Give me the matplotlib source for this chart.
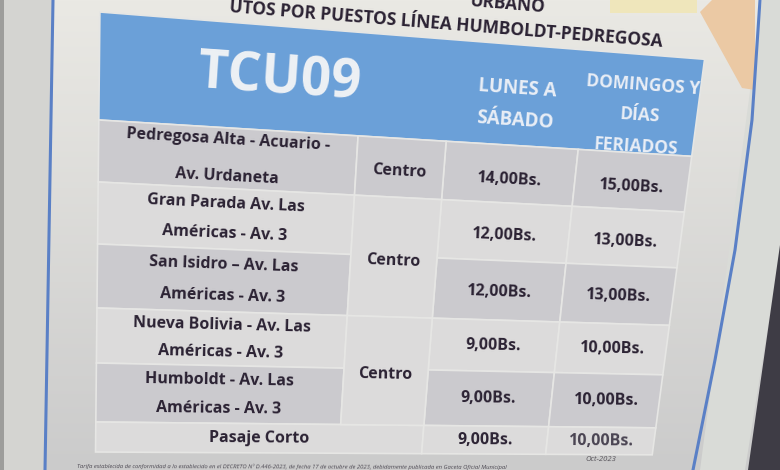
import math
import numpy as np
import matplotlib
matplotlib.use("Agg")
import matplotlib.pyplot as plt
from matplotlib.patches import Polygon

# ---------------- data ----------------
title_top = "URBANO"
title_line = "UTOS POR PUESTOS LÍNEA HUMBOLDT-PEDREGOSA"
route_code = "TCU09"
col_headers = [["LUNES A", "SÁBADO"], ["DOMINGOS Y", "DÍAS", "FERIADOS"]]
routes = [
    ["Pedregosa Alta - Acuario -", "Av. Urdaneta"],
    ["Gran Parada Av. Las", "Américas - Av. 3"],
    ["San Isidro – Av. Las", "Américas - Av. 3"],
    ["Nueva Bolivia - Av. Las", "Américas - Av. 3"],
    ["Humboldt - Av. Las", "Américas - Av. 3"],
    ["Pasaje Corto"],
]
destinations = ["Centro", "Centro", "Centro"]
dest_spans = [(0, 1), (1, 3), (3, 5)]
fare_weekday = [14.00, 12.00, 12.00, 9.00, 9.00, 9.00]
fare_holiday = [15.00, 13.00, 13.00, 10.00, 10.00, 10.00]
currency = "Bs."
date_note = "Oct-2023"
footnote = ("Tarifa establecida de conformidad a lo establecido en el DECRETO Nº D.446-2023, "
            "de fecha 17 de octubre de 2023, debidamente publicada en Gaceta Oficial Municipal")

# ---------------- layout (flat sheet coordinates) ----------------
W, H = 780, 470
col_edges = [100, 365, 455, 590, 706]
row_edges = [120, 182, 244, 308, 363, 422, 452]
head_top = 12

FONT = "Open Sans"
INK = "#2b2233"


def slope(y):
    return 0.08 - 0.075 * y / 450.0


def P(x, y):
    s = 1 - 1.8e-4 * y
    return 45 + (x - 45) * s, y + slope(y) * (x - 100)


def rot(y):
    return -math.degrees(math.atan(slope(y)))


fig = plt.figure(figsize=(7.8, 4.7), dpi=100)
ax = fig.add_axes([0, 0, 1, 1])
ax.set_xlim(0, W)
ax.set_ylim(H, 0)
ax.axis("off")

# background photo-like paper gradient
yy = np.linspace(0, 1, H)[:, None, None]
top = np.array([234, 233, 228]) / 255
bot = np.array([203, 203, 203]) / 255
img = np.broadcast_to(top * (1 - yy) + bot * yy, (H, W, 3)).copy()
ax.imshow(img, extent=(0, W, H, 0), zorder=0, aspect="auto")

# surroundings
ax.add_patch(Polygon([(0, 0), (52, 0), (44, H), (0, H)], closed=True,
                     color="#d4d4d1", zorder=1, lw=0))
ax.add_patch(Polygon([(0, 0), (4, 0), (4, H), (0, H)], closed=True,
                     color="#9d9d9b", zorder=1, lw=0))
ax.add_patch(Polygon([(762, 0), (W, 0), (W, 250), (745, H), (700, H)], closed=True,
                     color="#d9dbd7", zorder=1, lw=0))
ax.add_patch(Polygon([(W, 245), (W, H), (748, H)], closed=True,
                     color="#3e3c45", zorder=1, lw=0))
ax.add_patch(Polygon([(610, 0), (697, 0), (697, 13), (610, 13)], closed=True,
                     color="#efe6bb", zorder=1, lw=0))
ax.add_patch(Polygon([(700, 12), (712, 0), (755, 0), (755, 90), (742, 88)], closed=True,
                     color="#ebc9a4", zorder=1, lw=0))
# blue border lines
ax.plot([53, 45], [0, H], color="#5a80c6", lw=2.2, zorder=2)
ax.plot([760, 752, 735, 715, 693], [0, 120, 250, 360, H], color="#5a80c6",
        lw=2.2, zorder=2)


def quad(x0, x1, y0, y1, color, z=2):
    pts = [P(x0, y0), P(x1, y0), P(x1, y1), P(x0, y1)]
    ax.add_patch(Polygon(pts, closed=True, facecolor=color, edgecolor="#e6e6e4",
                         lw=1.2, zorder=z))


def T(x, y, s, **kw):
    X, Y = P(x, y)
    base = dict(ha="center", va="center", rotation=rot(y), rotation_mode="anchor",
                family=FONT, zorder=5)
    base.update(kw)
    ax.text(X, Y, s, **base)


# header band
quad(col_edges[0], col_edges[-1], head_top, row_edges[0], "#6ba0d8", z=2)
T((col_edges[0] + col_edges[2]) / 2 + 5, 67, route_code, fontsize=38,
  fontweight="bold", color="#eef1f5")
for ci, lines in enumerate(col_headers):
    cx = (col_edges[ci + 2] + col_edges[ci + 3]) / 2
    n = len(lines)
    for li, ln in enumerate(lines):
        yy_ = (76 if ci == 0 else 79) + (li - (n - 1) / 2) * 34
        T(cx, yy_, ln, fontsize=13.5 if ci == 0 else 12.5, fontweight="bold",
          color="#e9eef6")

# title lines
T(468, -30, title_top, fontsize=12.5, fontweight="bold", color=INK, ha="left")
T(446, -3, title_line, fontsize=12.5, fontweight="bold", color=INK)

# rows
dark, light = "#cbcace", "#dcdbdb"
nrows = len(routes)
for r in range(nrows):
    y0, y1 = row_edges[r], row_edges[r + 1]
    c = dark if r % 2 == 0 else light
    if r == nrows - 1:
        quad(col_edges[0], col_edges[2], y0, y1, c)
    else:
        quad(col_edges[0], col_edges[1], y0, y1, c)
    quad(col_edges[2], col_edges[3], y0, y1, c)
    quad(col_edges[3], col_edges[4], y0, y1, c)

for (a, b), d in zip(dest_spans, destinations):
    y0, y1 = row_edges[a], row_edges[b]
    c = dark if (b - a) == 1 else light
    quad(col_edges[1], col_edges[2], y0, y1, c)
    T((col_edges[1] + col_edges[2]) / 2, (y0 + y1) / 2 + 4, d, fontsize=11.5,
      fontweight="bold", color=INK)


def fmt(v):
    return f"{v:.2f}".replace(".", ",") + currency


for r, lines in enumerate(routes):
    y0, y1 = row_edges[r], row_edges[r + 1]
    yc = (y0 + y1) / 2
    h = y1 - y0
    if len(lines) == 1:
        cx = (col_edges[0] + col_edges[2]) / 2
        T(cx, yc, lines[0], fontsize=11.5, fontweight="bold", color=INK)
    else:
        cx = (col_edges[0] + col_edges[1]) / 2
        gap = 38 if r == 0 else min(max(0.5 * h, 28), 36)
        T(cx, yc - gap / 2, lines[0], fontsize=11.5, fontweight="bold", color=INK)
        T(cx, yc + gap / 2, lines[1], fontsize=11.5, fontweight="bold", color=INK)
    py = yc + max(0, 6 - 2 * r)
    T((col_edges[2] + col_edges[3]) / 2, py, fmt(fare_weekday[r]), fontsize=11.5,
      fontweight="bold", color=INK)
    T((col_edges[3] + col_edges[4]) / 2, py, fmt(fare_holiday[r]), fontsize=11.5,
      fontweight="bold", color=INK if r < nrows - 1 else "#4a4452")

# notes
T(668, 457, date_note, fontsize=5.5, style="italic", color="#555258", ha="right")
T(80, 466, footnote, fontsize=4.2, style="italic", color="#4a4650", ha="left")

fig.savefig("out.png", dpi=100)
